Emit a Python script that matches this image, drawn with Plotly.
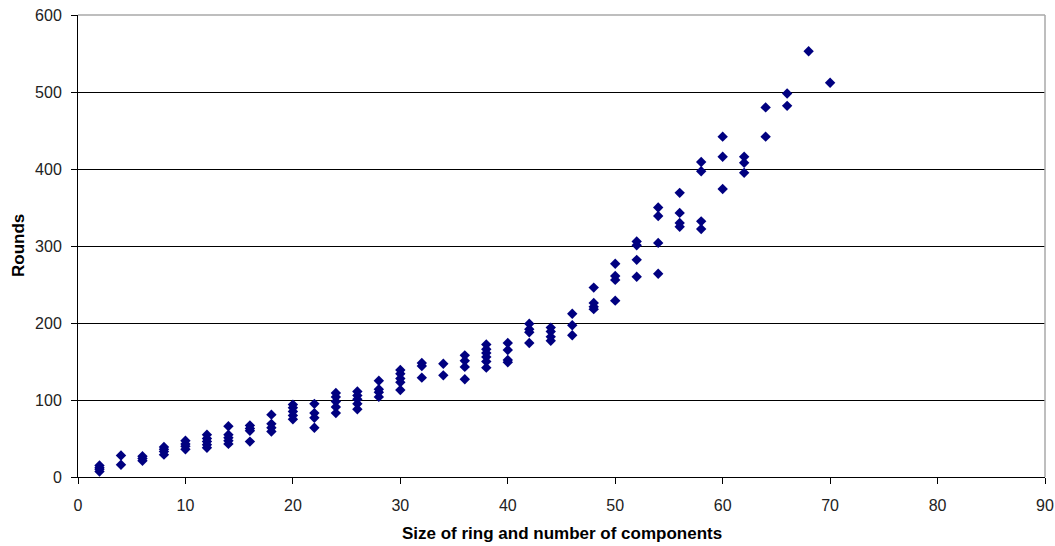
import plotly.graph_objects as go

# Ring sizes (x) and the measured rounds for each run at that size
ring_sizes = [2, 4, 6, 8, 10, 12, 14, 16, 18, 20, 22, 24, 26, 28, 30, 32, 34, 36,
              38, 40, 42, 44, 46, 48, 50, 52, 54, 56, 58, 60, 62, 64, 66, 68, 70]
rounds_by_size = [
    [15, 12, 10, 7],
    [28, 16],
    [27, 24, 21],
    [39, 36, 33, 29],
    [47, 43, 40, 36],
    [55, 50, 46, 42, 38],
    [66, 55, 51, 47, 43],
    [67, 63, 60, 46],
    [81, 69, 64, 59],
    [94, 90, 85, 80, 75],
    [95, 83, 77, 64],
    [109, 104, 98, 91, 83],
    [111, 106, 101, 95, 88],
    [125, 114, 110, 104],
    [139, 134, 128, 123, 113],
    [148, 144, 129],
    [147, 132],
    [158, 151, 143, 127],
    [172, 166, 161, 156, 150, 142],
    [174, 165, 152, 149],
    [199, 192, 188, 174],
    [194, 189, 182, 177],
    [212, 197, 184],
    [246, 226, 221, 218],
    [277, 261, 256, 229],
    [306, 301, 282, 260],
    [350, 339, 304, 264],
    [369, 343, 330, 325],
    [409, 397, 332, 322],
    [442, 416, 374],
    [416, 408, 395],
    [480, 442],
    [498, 482],
    [553],
    [512],
]
x_ticks = list(range(0, 91, 10))
y_ticks = list(range(0, 601, 100))
x_title = "Size of ring and number of components"
y_title = "Rounds"

xs, ys = [], []
for size, vals in zip(ring_sizes, rounds_by_size):
    for v in vals:
        xs.append(size)
        ys.append(v)

fig = go.Figure()
fig.add_trace(go.Scatter(
    x=xs, y=ys, mode="markers",
    marker=dict(symbol="diamond", size=8, color="#000080", line=dict(width=0)),
    showlegend=False,
))

font_family = "Liberation Sans, Arial, sans-serif"
fig.update_layout(
    width=1055, height=546,
    margin=dict(l=78, r=10, t=15, b=69, autoexpand=False),
    paper_bgcolor="white", plot_bgcolor="white",
    font=dict(family=font_family, size=16, color="#000000"),
    xaxis=dict(
        range=[0, 90], tickvals=x_ticks, showgrid=False, zeroline=False,
        showline=True, linecolor="#000000", linewidth=1,
        ticks="outside", ticklen=6, tickcolor="#000000",
        tickfont=dict(size=16, color="#222222"), ticklabelstandoff=8,
        automargin=False,
    ),
    yaxis=dict(
        range=[0, 600], tickvals=y_ticks, showgrid=True, gridcolor="#000000",
        gridwidth=1, zeroline=False,
        showline=True, linecolor="#000000", linewidth=1,
        ticks="outside", ticklen=6, tickcolor="#000000",
        tickfont=dict(size=16, color="#222222"), ticklabelstandoff=6,
        automargin=False,
    ),
    annotations=[
        dict(text=f"<b>{x_title}</b>", xref="paper", yref="paper",
             x=0.5, y=0, xanchor="center", yanchor="middle", yshift=-56,
             showarrow=False, font=dict(size=17, color="#000000")),
        dict(text=f"<b>{y_title}</b>", xref="paper", yref="paper",
             x=0, y=0.5, xanchor="center", yanchor="middle", xshift=-60,
             textangle=-90, showarrow=False, font=dict(size=17, color="#000000")),
    ],
    shapes=[
        dict(type="line", xref="paper", yref="paper", x0=0, x1=1, y0=1, y1=1,
             line=dict(color="#a8a8a8", width=1.5), layer="above"),
        dict(type="line", xref="paper", yref="paper", x0=1, x1=1, y0=0, y1=1,
             line=dict(color="#a8a8a8", width=1.5), layer="above"),
    ],
)

fig.write_html("out.html")
